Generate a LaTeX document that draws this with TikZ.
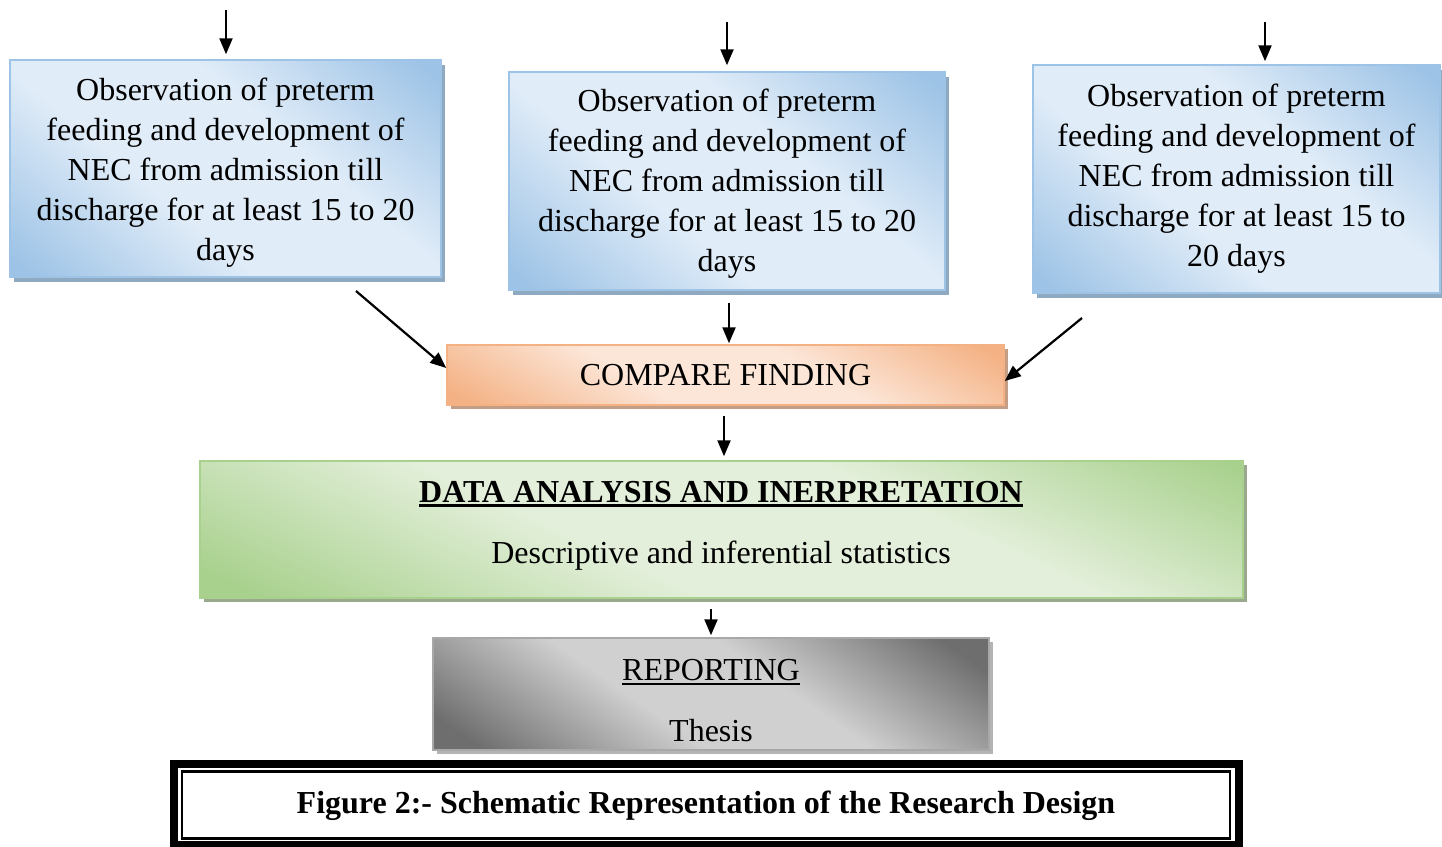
\documentclass[tikz,border=0pt]{standalone}
\usepackage{fontspec}
\setmainfont{Liberation Serif}
\usetikzlibrary{arrows.meta,shadows,calc}
\definecolor{blueD}{HTML}{9DC3E6}
\definecolor{blueL}{HTML}{E0ECF8}
\definecolor{blueS}{HTML}{8FA9C1}
\definecolor{orD}{HTML}{F4B183}
\definecolor{orL}{HTML}{FCE6D8}
\definecolor{orS}{HTML}{C49E84}
\definecolor{grD}{HTML}{A9D18E}
\definecolor{grL}{HTML}{E3EFDA}
\definecolor{grS}{HTML}{9AA88E}
\definecolor{gyD}{HTML}{6E6E6E}
\definecolor{gyL}{HTML}{D0D0D0}
\definecolor{gyS}{HTML}{B4B4B4}
\pgfdeclareverticalshading{bluesh}{100bp}{color(0bp)=(blueD); color(17bp)=(blueD); color(40bp)=(blueL); color(60bp)=(blueL); color(83bp)=(blueD); color(100bp)=(blueD)}
\pgfdeclareverticalshading{orsh}{100bp}{color(0bp)=(orD); color(18bp)=(orD); color(40bp)=(orL); color(60bp)=(orL); color(82bp)=(orD); color(100bp)=(orD)}
\pgfdeclareverticalshading{grsh}{100bp}{color(0bp)=(grD); color(20bp)=(grD); color(42bp)=(grL); color(62bp)=(grL); color(82bp)=(grD); color(100bp)=(grD)}
\pgfdeclareverticalshading{gysh}{100bp}{color(0bp)=(gyD); color(20bp)=(gyD); color(42bp)=(gyL); color(58bp)=(gyL); color(80bp)=(gyD); color(100bp)=(gyD)}
\newcommand{\myul}[2]{\setbox0\hbox{#2}\rlap{\rule[-5pt]{\wd0}{#1}}\box0}
\begin{document}
\begin{tikzpicture}[x=1pt,y=-1pt,
  txt/.style={font=\fontsize{32}{40}\selectfont, align=center, inner sep=0pt},
  boxbase/.style={rectangle, line width=1.5pt, inner sep=0pt, txt, shade},
  bluebox/.style={boxbase, draw=blueD, shading=bluesh, shading angle=-40,
     general shadow={fill=blueS, shadow xshift=4pt, shadow yshift=-5pt}},
  orbox/.style={boxbase, draw=orD, shading=orsh, shading angle=-30,
     general shadow={fill=orS, shadow xshift=4pt, shadow yshift=-4pt}},
  grbox/.style={boxbase, draw=grD, shading=grsh, shading angle=-25,
     general shadow={fill=grS, shadow xshift=4pt, shadow yshift=-4pt}},
  gybox/.style={boxbase, draw=gyD!60, shading=gysh, shading angle=-35,
     general shadow={fill=gyS, shadow xshift=4pt, shadow yshift=-4pt}},
  arr/.style={line width=2.2pt, -{Triangle[length=16pt,width=13pt]}},
  lbl/.style={txt, anchor=base},
  blk/.style={txt}
]
\useasboundingbox (0,0) rectangle (1442,846);
\fill[white] (0,0) rectangle (1442,846);

% top observation boxes
\node[bluebox, minimum width=431pt, minimum height=217pt] (b1) at (225.5,168.5) {};
\node[blk] (b1t) at (225.5,173) {Observation of preterm\\feeding and development of\\NEC from admission till\\discharge for at least 15 to 20\\days};
\node[bluebox, minimum width=436pt, minimum height=218pt] (b2) at (727,181) {};
\node[blk] (b2t) at (727,184) {Observation of preterm\\feeding and development of\\NEC from admission till\\discharge for at least 15 to 20\\days};
\node[bluebox, minimum width=407pt, minimum height=228pt] (b3) at (1236.5,179) {};
\node[blk] (b3t) at (1236.5,179) {Observation of preterm\\feeding and development of\\NEC from admission till\\discharge for at least 15 to\\20 days};

% compare
\node[orbox, minimum width=557pt, minimum height=60pt] (cmp) at (725.5,375) {COMPARE FINDING};

% data analysis
\node[grbox, minimum width=1043pt, minimum height=137pt] (gr) at (721.5,529.5) {};
\node[lbl] (grt) at (721,502) {\myul{3pt}{\textbf{DATA ANALYSIS AND INERPRETATION}}};
\node[lbl] (grs) at (721,563) {Descriptive and inferential statistics};

% reporting
\node[gybox, minimum width=556pt, minimum height=112pt] (rep) at (711,694) {};
\node[lbl] (rept) at (711,680) {\myul{2pt}{REPORTING}};
\node[lbl] (reps) at (711,741) {Thesis};

% caption frame
\draw[line width=8pt] (174,764) rectangle (1239,845);
\draw[line width=2.5pt] (182,771.5) rectangle (1230,838.5);
\node[lbl] (cap) at (706,813) {\textbf{Figure 2:- Schematic Representation of the Research Design}};

% incoming arrows
\coordinate (t1) at (226,10);
\coordinate (t2) at (727,22);
\coordinate (t3) at (1265,22);
\draw[arr, shorten >=5pt] (t1) -- (t1 |- b1.north);
\draw[arr, shorten >=6pt] (t2) -- (t2 |- b2.north);
\draw[arr, shorten >=3pt] (t3) -- (t3 |- b3.north);

% to compare
\coordinate (d1) at (356,291);
\coordinate (d3) at (1082,318);
\draw[arr] (d1) -- ([yshift=7pt]cmp.west);
\draw[arr] (d3) -- ([yshift=-6pt]cmp.east);
\draw[arr, shorten <=12pt, shorten >=1pt] ([xshift=2pt]b2.south) -- ([xshift=3.5pt]cmp.north);

% downward chain
\draw[arr, shorten <=10pt, shorten >=4pt] ([xshift=-1.5pt]cmp.south) -- ([xshift=2.5pt]gr.north);
\draw[arr, shorten <=10pt, shorten >=2pt] (gr.south -| rep.north) -- (rep.north);
\end{tikzpicture}
\end{document}
